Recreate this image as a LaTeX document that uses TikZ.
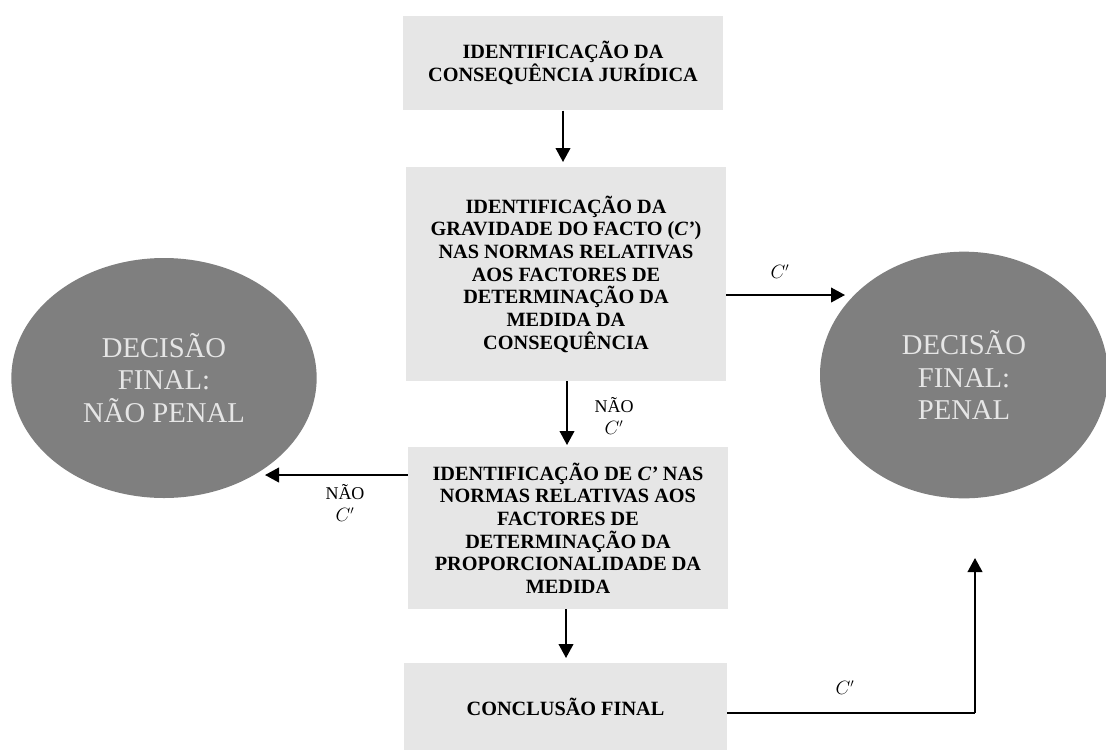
\documentclass[tikz,border=0pt]{standalone}
\usepackage{fontspec}
\setmainfont{Liberation Serif}
\usetikzlibrary{shapes.geometric,arrows.meta}
\definecolor{boxgray}{HTML}{E6E6E6}
\definecolor{ellgray}{HTML}{7F7F7F}
\definecolor{elltext}{HTML}{E6E6E6}
\tikzset{
  stepbox/.style={fill=boxgray, draw=none, inner sep=0pt, align=center,
    font=\fontsize{15.2}{17}\selectfont\bfseries},
  decision/.style={ellipse, fill=ellgray, draw=none, inner sep=0pt, align=center,
    text=elltext, font=\fontsize{21.5}{24.4}\selectfont},
  arr/.style={line width=1.4pt, -{Triangle[length=10.5pt,width=11pt]}},
  plain/.style={line width=1.4pt},
  lbl/.style={inner sep=0pt, align=center, font=\fontsize{13.5}{16.5}\selectfont}
}
\begin{document}
\begin{tikzpicture}[x=0.75pt,y=-0.75pt]
\useasboundingbox (0,0) rectangle (1106,751);
\node[stepbox, minimum width=240pt, minimum height=71pt] (b1) at (563,63)
  {IDENTIFICAÇÃO DA\\CONSEQUÊNCIA JURÍDICA};
\node[stepbox, minimum width=240pt, minimum height=160.5pt] (b2) at (566,274)
  {IDENTIFICAÇÃO DA\\GRAVIDADE DO FACTO (\textit{C'})\\NAS NORMAS RELATIVAS\\AOS FACTORES DE\\DETERMINAÇÃO DA\\MEDIDA DA\\CONSEQUÊNCIA};
\node[stepbox, minimum width=240pt, minimum height=121.5pt] (b3) at (568,528)
  {IDENTIFICAÇÃO DE \textit{C'} NAS\\NORMAS RELATIVAS AOS\\FACTORES DE\\DETERMINAÇÃO DA\\PROPORCIONALIDADE DA\\MEDIDA};
\node[stepbox, minimum width=242pt, minimum height=65pt] (b4) at (565.5,706.5)
  {CONCLUSÃO FINAL};
\node[decision, minimum width=229pt, minimum height=180pt] (nl) at (164,378)
  {DECISÃO\\FINAL:\\NÃO PENAL};
\node[decision, minimum width=216pt, minimum height=185pt] (pl) at (964,375)
  {DECISÃO\\FINAL:\\PENAL};
\coordinate (c1) at (563,162);
\coordinate (c2) at (567,445);
\coordinate (c3) at (566,658);
\coordinate (c4) at (845,295);
\coordinate (c5) at (265,475);
\coordinate (c6) at (975,713);
\coordinate (c7) at (975,558);
\draw[arr] (b1.south -| c1) -- (c1);
\draw[arr] (b2.south -| c2) -- (c2);
\draw[arr] (b3.south -| c3) -- (c3);
\draw[arr] (b2.east |- c4) -- (c4);
\draw[arr] (b3.west |- c5) -- (c5);
\draw[plain] (b4.east |- c6) -- (c6);
\draw[arr] (c6) -- (c7);
\node[lbl] (l1) at (614,416) {NÃO\\$C'$};
\node[lbl] (l2) at (345,503) {NÃO\\$C'$};
\node[lbl] (l3) at (780,272) {$C'$};
\node[lbl] (l4) at (845,688) {$C'$};
\end{tikzpicture}
\end{document}
